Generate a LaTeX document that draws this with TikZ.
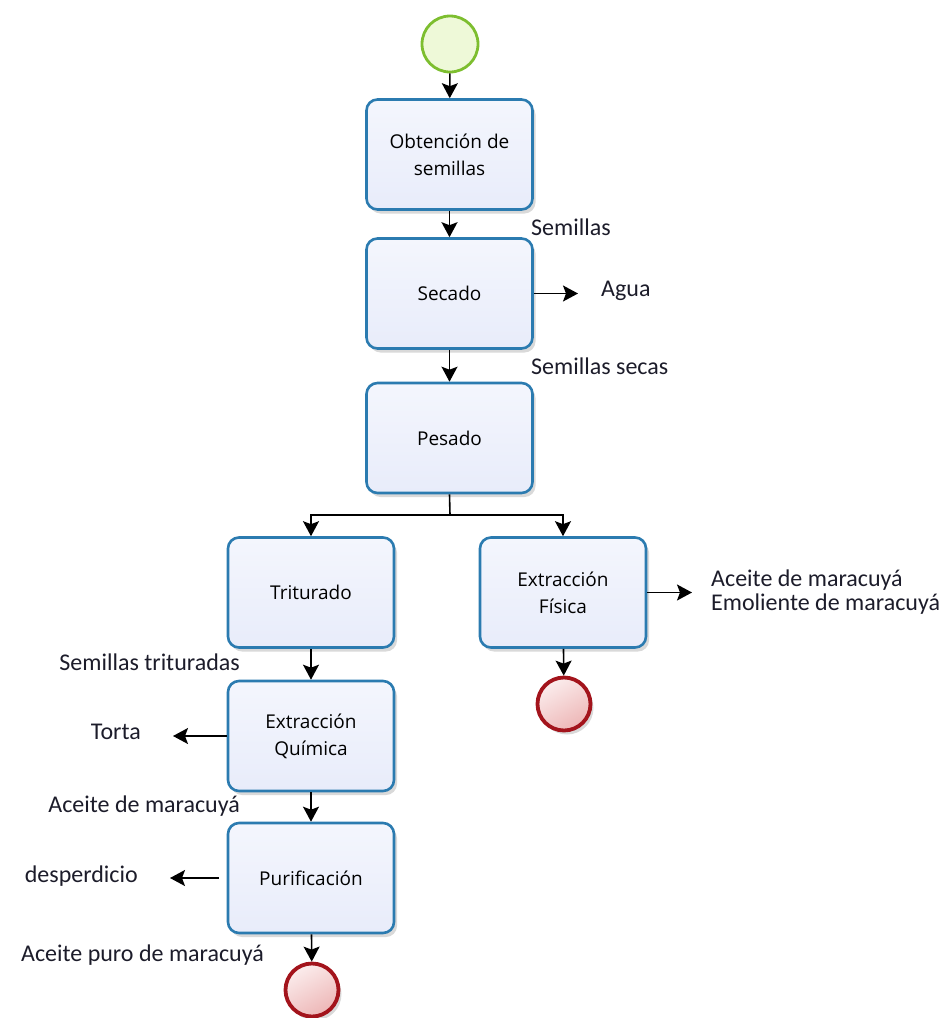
\documentclass[tikz,border=0pt]{standalone}
\usepackage{fontspec}
\setmainfont{Carlito}
\newfontfamily\boxfont{Open Sans}
\usetikzlibrary{arrows.meta,shadows}
\definecolor{boxborder}{HTML}{2B7BB0}
\definecolor{boxtop}{HTML}{F4F6FD}
\definecolor{boxbottom}{HTML}{E8ECFA}
\definecolor{startborder}{HTML}{7DBE2F}
\definecolor{startfill}{HTML}{EEF9D8}
\definecolor{endborder}{HTML}{A3141C}
\definecolor{endtop}{HTML}{FBEDED}
\definecolor{endbottom}{HTML}{EDB6B6}
\definecolor{labeltext}{HTML}{1C1C2A}
\tikzset{
  task/.style={draw=boxborder, line width=2.6pt, top color=boxtop, bottom color=boxbottom,
    rounded corners=11pt,
    minimum width=166pt, minimum height=110pt, inner sep=0pt, align=center,
    font=\boxfont\fontsize{19}{27}\selectfont,
    drop shadow={shadow xshift=3pt, shadow yshift=-4pt, opacity=0.15, fill=black}},
  startev/.style={circle, draw=startborder, line width=2.8pt, fill=startfill, minimum size=56pt, inner sep=0pt},
  endev/.style={circle, draw=endborder, line width=3.8pt, top color=endtop, bottom color=endbottom,
    shading angle=30, minimum size=53pt, inner sep=0pt,
    drop shadow={shadow xshift=3pt, shadow yshift=-4pt, opacity=0.15, fill=black}},
  flowtip/.tip={Stealth[length=15pt,width=16pt,inset=3pt]},
  flow/.style={line width=1.6pt, -flowtip},
  lbl/.style={font=\fontsize{24}{24}\selectfont, text=labeltext, inner sep=0pt},
}
\begin{document}
\begin{tikzpicture}[x=1pt,y=-1pt]
\useasboundingbox (0,0) rectangle (952,1018);
% events and tasks
\node[startev] (start) at (450,44) {};
\node[task] (obt) at (449.5,154.5) {Obtención de\\semillas};
\node[task] (sec) at (449.5,293.5) {Secado};
\node[task] (pes) at (449.5,438) {Pesado};
\node[task] (tri) at (311,592.5) {Triturado};
\node[task] (fis) at (563,592.5) {Extracción\\Física};
\node[task] (qui) at (311,736) {Extracción\\Química};
\node[task] (pur) at (311,878) {Purificación};
\node[endev] (endf) at (564,704) {};
\node[endev] (endp) at (312,990) {};
% labels
\node[lbl, anchor=west] (lsem) at (531,227) {Semillas};
\node[lbl, anchor=west] (lagua) at (601,291) {Agua};
\node[lbl, anchor=west] (lsecas) at (531,366) {Semillas secas};
\node[lbl, anchor=west, align=left] (lfis) at (711,592) {Aceite de maracuyá\\Emoliente de maracuyá};
\node[lbl, anchor=east] (ltri) at (240,662) {Semillas trituradas};
\node[lbl, anchor=east] (ltorta) at (141,732) {Torta};
\node[lbl, anchor=east] (lace) at (240,806) {Aceite de maracuyá};
\node[lbl, anchor=east] (ldes) at (138,876) {desperdicio};
\node[lbl, anchor=east] (lpuro) at (264,955) {Aceite puro de maracuyá};
% free ends
\coordinate (aguaend) at (578,0);
\coordinate (fisend) at (692,0);
\coordinate (tortaend) at (173,0);
\coordinate (desend) at (170,0);
\coordinate (desstart) at (219,0);
\coordinate (split) at (450,515);
% connectors
\draw[flow] (start) -- (obt);
\draw[flow] (obt) -- (sec);
\draw[flow] (sec) -- (pes);
\draw[flow] (sec.east) -- (sec.east -| aguaend);
\draw[line width=1.6pt] (pes.south) -- (split);
\draw[flow] (split) -| (tri.north);
\draw[flow] (split) -| (fis.north);
\draw[flow] (fis.east) -- (fis.east -| fisend);
\draw[flow] (fis) -- (endf);
\draw[flow] (tri) -- (qui);
\draw[flow] (qui.west) -- (qui.west -| tortaend);
\draw[flow] (qui) -- (pur);
\draw[flow] (pur.west -| desstart) -- (pur.west -| desend);
\draw[flow] (pur) -- (endp);
\end{tikzpicture}
\end{document}
